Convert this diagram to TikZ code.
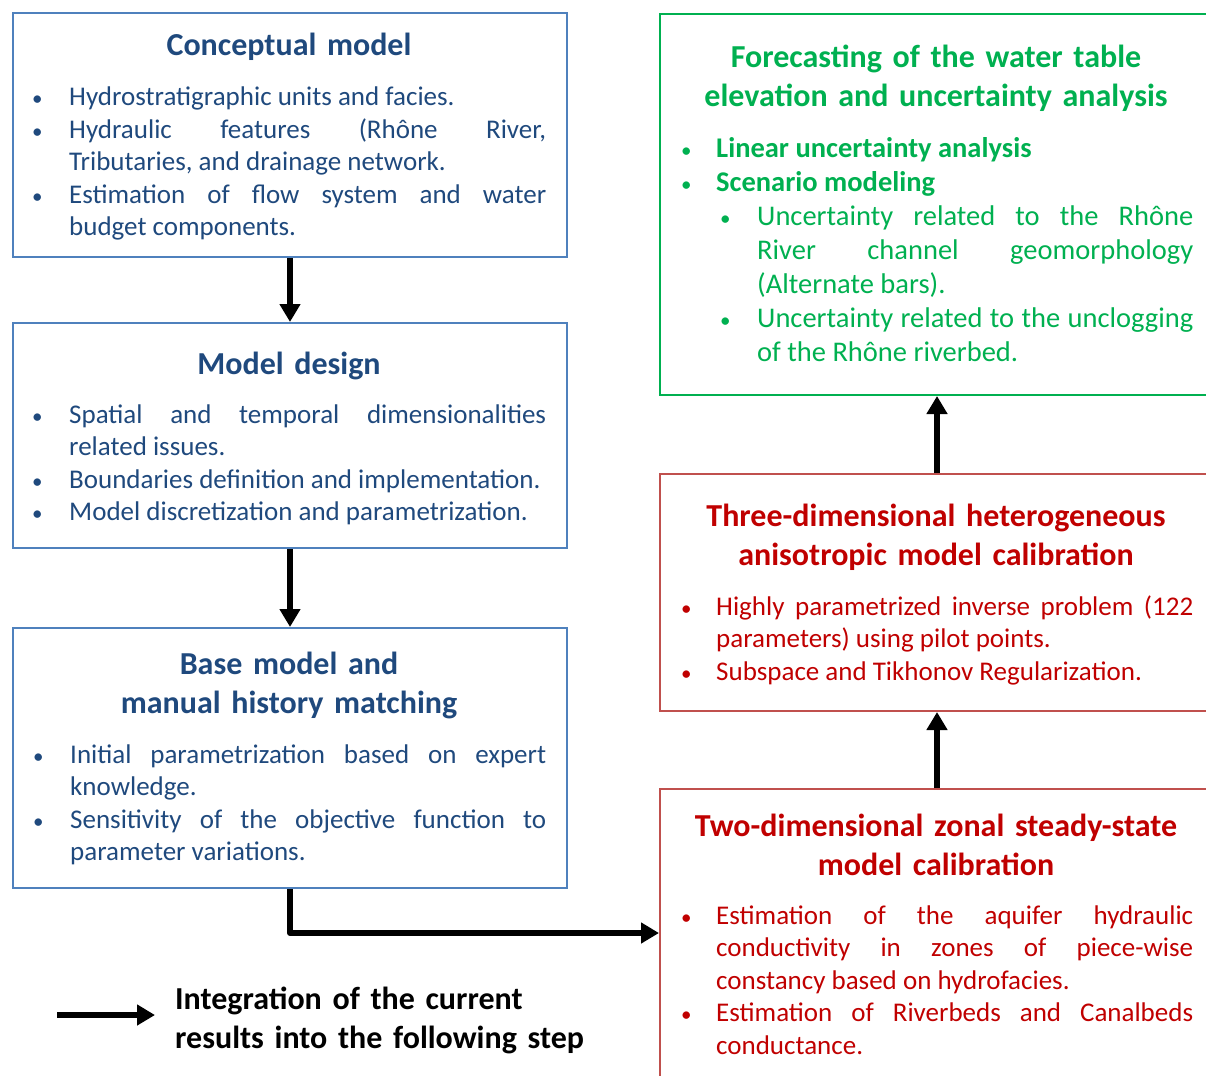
\documentclass[tikz,border=0pt]{standalone}
\usepackage{fontspec}
\setmainfont{Carlito}
\usetikzlibrary{arrows.meta}
\definecolor{bblue}{HTML}{1F497D}
\definecolor{bborder}{HTML}{4F81BD}
\definecolor{ggreen}{HTML}{00B050}
\definecolor{rtext}{HTML}{C00000}
\definecolor{rborder}{HTML}{C0504D}
\newcommand\mybullet{\raisebox{0pt}{\fontsize{21}{21}\selectfont\textbullet}}
% bullet item: #1 bullet offset, #2 text indent, #3 text
\newcommand\bitem[3]{\noindent\hangindent=#2\hangafter=1\makebox[#2][l]{\hspace{#1}\mybullet}#3\par}
\newcommand\listsetup{\tolerance=10000 \pretolerance=-1 \hyphenpenalty=10000 \exhyphenpenalty=10000 \hbadness=10000 \relax}
\tikzset{
  boxbase/.style={draw, line width=2pt, rectangle, anchor=north west, inner sep=0pt},
  bluebox/.style={boxbase, draw=bborder},
  greenbox/.style={boxbase, draw=ggreen},
  redbox/.style={boxbase, draw=rborder},
  titletext/.style={anchor=base, inner sep=0pt, text width=540pt, align=center, font=\fontsize{32}{39}\selectfont\bfseries},
  listtext/.style={anchor=base west, inner sep=0pt, text width=#1, align=justify,
     font=\fontsize{27}{32.5}\selectfont},
  conn/.style={line width=6pt, -{Triangle[length=18pt,width=20pt]}, black}
}
\begin{document}
\begin{tikzpicture}[x=1pt,y=-1pt]
\useasboundingbox (0,0) rectangle (1206,1075);
% boxes
\node[bluebox, minimum width=554pt, minimum height=244pt] (b1) at (12,12) {};
\node[bluebox, minimum width=554pt, minimum height=225pt] (b2) at (12,322) {};
\node[bluebox, minimum width=554pt, minimum height=260pt] (b3) at (12,627) {};
\node[greenbox, minimum width=554pt, minimum height=381pt] (g) at (659,13) {};
\node[redbox, minimum width=554pt, minimum height=237pt] (r1) at (659,473) {};
\node[redbox, minimum width=554pt, minimum height=320pt] (r2) at (659,788) {};
% titles
\node[titletext, text=bblue] (t1) at (289,56) {Conceptual model};
\node[titletext, text=bblue] (t2) at (289,374) {Model design};
\node[titletext, text=bblue] (t3) at (289,674) {Base model and\\manual history matching};
\node[titletext, text=ggreen] (tg) at (936,68) {Forecasting of the water table\\elevation and uncertainty analysis};
\node[titletext, text=rtext] (tr1) at (936,526) {Three-dimensional heterogeneous\\anisotropic model calibration};
\node[titletext, text=rtext] (tr2) at (936,836) {Two-dimensional zonal steady-state\\model calibration};
% lists
\node[listtext=516pt, text=bblue] (l1) at (30,106) {\listsetup
\bitem{2pt}{39pt}{Hydrostratigraphic units and facies.}%
\bitem{2pt}{39pt}{Hydraulic features (Rhône River,\linebreak Tributaries, and drainage network.}%
\bitem{2pt}{39pt}{Estimation of flow system and water\linebreak budget components.}};
\node[listtext=516pt, text=bblue] (l2) at (30,423) {\listsetup
\bitem{2pt}{39pt}{Spatial and temporal dimensionalities\linebreak related issues.}%
\bitem{2pt}{39pt}{Boundaries definition and implementation.}%
\bitem{2pt}{39pt}{Model discretization and parametrization.}};
\node[listtext=515pt, text=bblue] (l3) at (31,763) {\listsetup
\bitem{2pt}{39pt}{Initial parametrization based on expert\linebreak knowledge.}%
\bitem{2pt}{39pt}{Sensitivity of the objective function to\linebreak parameter variations.}};
\node[listtext=512pt, text=ggreen, font=\fontsize{28.5}{34}\selectfont] (lg) at (681,158) {\listsetup
\bitem{0pt}{35pt}{\textbf{Linear uncertainty analysis}}%
\bitem{0pt}{35pt}{\textbf{Scenario modeling}}%
\bitem{39pt}{76pt}{Uncertainty related to the Rhône\linebreak River channel geomorphology\linebreak (Alternate bars).}%
\bitem{39pt}{76pt}{Uncertainty related to the unclogging\linebreak of the Rhône riverbed.}};
\node[listtext=512pt, text=rtext] (lr1) at (681,615) {\listsetup
\bitem{0pt}{35pt}{Highly parametrized inverse problem (122\linebreak parameters) using pilot points.}%
\bitem{0pt}{35pt}{Subspace and Tikhonov Regularization.}};
\node[listtext=512pt, text=rtext] (lr2) at (681,924) {\listsetup
\bitem{0pt}{35pt}{Estimation of the aquifer hydraulic\linebreak conductivity in zones of piece-wise\linebreak constancy based on hydrofacies.}%
\bitem{0pt}{35pt}{Estimation of Riverbeds and Canalbeds\linebreak conductance.}};
% connectors
\coordinate (j) at (659,933);
\draw[conn] (b1.south) -- (b2.north);
\draw[conn] (b2.south) -- (b3.north);
\draw[conn, line join=round] (b3.south) |- (j);
\draw[conn] (r2.north) -- (r1.south);
\draw[conn] (r1.north) -- (g.south);
% legend
\coordinate (la) at (57,1015);
\coordinate (lb) at (155,1015);
\draw[conn] (la) -- (lb);
\node[anchor=base west, inner sep=0pt, text width=430pt, align=left, font=\fontsize{32}{39}\selectfont\bfseries] (lt) at (175,1009) {Integration of the current\\results into the following step};
\end{tikzpicture}
\end{document}
